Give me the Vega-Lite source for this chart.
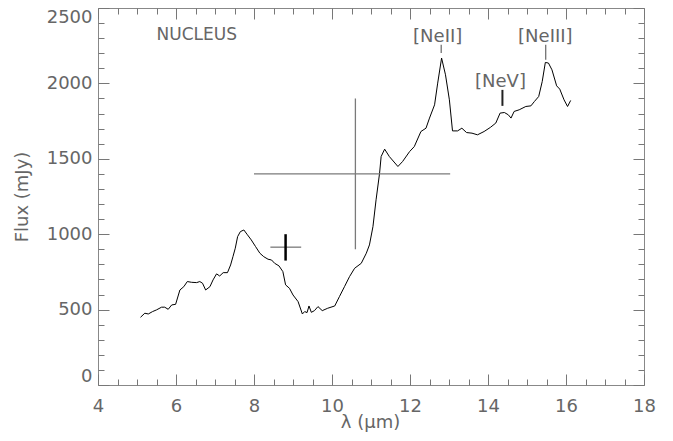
{
  "$schema": "https://vega.github.io/schema/vega-lite/v6.json",
  "width": 546,
  "height": 377,
  "autosize": {"type": "none"},
  "padding": {"left": 98, "top": 8, "right": 29, "bottom": 56},
  "background": "white",
  "config": {
    "view": {"stroke": "#888888", "strokeWidth": 1},
    "axis": {"domain": false, "grid": false, "tickColor": "#777777", "tickWidth": 1, "labelFont": "DejaVu Sans", "labelFontSize": 18, "labelColor": "#666666", "titleFont": "DejaVu Sans", "titleFontSize": 18, "titleColor": "#666666", "titleFontWeight": "normal", "format": "d"}
  },
  "datasets": {
    "spectrum": [
      {"wl": 5.09, "flux": 449}, {"wl": 5.20, "flux": 476}, {"wl": 5.29, "flux": 471}, {"wl": 5.40, "flux": 487},
      {"wl": 5.50, "flux": 498}, {"wl": 5.63, "flux": 516}, {"wl": 5.71, "flux": 516}, {"wl": 5.80, "flux": 502},
      {"wl": 5.89, "flux": 531}, {"wl": 5.99, "flux": 535}, {"wl": 6.10, "flux": 630}, {"wl": 6.20, "flux": 652},
      {"wl": 6.29, "flux": 686}, {"wl": 6.40, "flux": 681}, {"wl": 6.53, "flux": 679}, {"wl": 6.61, "flux": 686},
      {"wl": 6.68, "flux": 675}, {"wl": 6.76, "flux": 630}, {"wl": 6.87, "flux": 652}, {"wl": 6.95, "flux": 697},
      {"wl": 7.04, "flux": 737}, {"wl": 7.12, "flux": 723}, {"wl": 7.21, "flux": 745}, {"wl": 7.32, "flux": 745},
      {"wl": 7.40, "flux": 796}, {"wl": 7.46, "flux": 851}, {"wl": 7.52, "flux": 907}, {"wl": 7.58, "flux": 984},
      {"wl": 7.65, "flux": 1017}, {"wl": 7.74, "flux": 1028}, {"wl": 7.82, "flux": 1000}, {"wl": 7.93, "flux": 962},
      {"wl": 8.04, "flux": 918}, {"wl": 8.15, "flux": 874}, {"wl": 8.25, "flux": 851}, {"wl": 8.36, "flux": 834},
      {"wl": 8.45, "flux": 829}, {"wl": 8.53, "flux": 807}, {"wl": 8.64, "flux": 790}, {"wl": 8.74, "flux": 752},
      {"wl": 8.81, "flux": 664}, {"wl": 8.91, "flux": 641}, {"wl": 9.00, "flux": 597}, {"wl": 9.13, "flux": 553},
      {"wl": 9.24, "flux": 471}, {"wl": 9.30, "flux": 487}, {"wl": 9.36, "flux": 480}, {"wl": 9.41, "flux": 524},
      {"wl": 9.47, "flux": 482}, {"wl": 9.55, "flux": 493}, {"wl": 9.64, "flux": 520}, {"wl": 9.75, "flux": 493},
      {"wl": 9.89, "flux": 509}, {"wl": 10.07, "flux": 524}, {"wl": 10.19, "flux": 586}, {"wl": 10.32, "flux": 652},
      {"wl": 10.45, "flux": 719}, {"wl": 10.58, "flux": 774}, {"wl": 10.75, "flux": 807}, {"wl": 10.88, "flux": 874},
      {"wl": 10.96, "flux": 929}, {"wl": 11.05, "flux": 1050}, {"wl": 11.13, "flux": 1228}, {"wl": 11.22, "flux": 1405},
      {"wl": 11.26, "flux": 1515}, {"wl": 11.35, "flux": 1564}, {"wl": 11.47, "flux": 1515}, {"wl": 11.69, "flux": 1449},
      {"wl": 11.81, "flux": 1482}, {"wl": 11.99, "flux": 1548}, {"wl": 12.11, "flux": 1581}, {"wl": 12.28, "flux": 1681},
      {"wl": 12.41, "flux": 1703}, {"wl": 12.50, "flux": 1770}, {"wl": 12.63, "flux": 1858}, {"wl": 12.71, "flux": 2002},
      {"wl": 12.81, "flux": 2168}, {"wl": 12.91, "flux": 2057}, {"wl": 13.01, "flux": 1891}, {"wl": 13.09, "flux": 1685},
      {"wl": 13.22, "flux": 1685}, {"wl": 13.33, "flux": 1703}, {"wl": 13.45, "flux": 1674}, {"wl": 13.59, "flux": 1670},
      {"wl": 13.73, "flux": 1659}, {"wl": 13.90, "flux": 1681}, {"wl": 14.06, "flux": 1708}, {"wl": 14.20, "flux": 1737},
      {"wl": 14.31, "flux": 1803}, {"wl": 14.42, "flux": 1807}, {"wl": 14.52, "flux": 1792}, {"wl": 14.59, "flux": 1770},
      {"wl": 14.67, "flux": 1814}, {"wl": 14.80, "flux": 1825}, {"wl": 14.97, "flux": 1847}, {"wl": 15.10, "flux": 1851},
      {"wl": 15.19, "flux": 1880}, {"wl": 15.30, "flux": 1913}, {"wl": 15.39, "flux": 2012}, {"wl": 15.47, "flux": 2139},
      {"wl": 15.55, "flux": 2135}, {"wl": 15.64, "flux": 2090}, {"wl": 15.76, "flux": 1984}, {"wl": 15.84, "flux": 1962},
      {"wl": 15.95, "flux": 1891}, {"wl": 16.04, "flux": 1847}, {"wl": 16.12, "flux": 1887}
    ],
    "errh": [
      {"x": 8.0, "x2": 13.03, "y": 1400},
      {"x": 8.42, "x2": 9.21, "y": 914}
    ],
    "errvBig": [
      {"x": 10.6, "y": 900, "y2": 1900}
    ],
    "errvSmall": [
      {"x": 8.81, "y": 825, "y2": 1000}
    ],
    "lineTicksThin": [
      {"x": 12.8, "y": 2201, "y2": 2256},
      {"x": 15.48, "y": 2157, "y2": 2256}
    ],
    "lineTicksThick": [
      {"x": 14.37, "y": 1851, "y2": 1957}
    ],
    "lineLabels": [
      {"label": "[NeII]", "x": 12.71, "y": 2310},
      {"label": "[NeIII]", "x": 15.47, "y": 2310},
      {"label": "[NeV]", "x": 14.32, "y": 2010}
    ],
    "title": [
      {"label": "NUCLEUS", "x": 5.5, "y": 2322}
    ]
  },
  "layer": [
    {
      "data": {"name": "spectrum"},
      "mark": {"type": "line", "color": "black", "strokeWidth": 1, "interpolate": "linear"},
      "encoding": {
        "x": {"field": "wl", "type": "quantitative", "scale": {"domain": [4, 18], "nice": false, "zero": false},
          "axis": {"orient": "bottom", "values": [4, 6, 8, 10, 12, 14, 16, 18], "tickSize": -11, "labelPadding": 23, "labelFlush": false, "title": "λ (μm)", "titleX": 272, "titleY": 37, "titleBaseline": "middle", "titleAnchor": null}},
        "y": {"field": "flux", "type": "quantitative", "scale": {"domain": [0, 2500], "nice": false, "zero": false},
          "axis": {"orient": "left", "values": [0, 500, 1000, 1500, 2000, 2500], "tickSize": -11, "labelPadding": 17, "labelFlush": true, "title": "Flux (mJy)", "titleX": -76, "titleY": 188.5, "titleAngle": -90, "titleBaseline": "middle", "titleAlign": "center"}}
      }
    },
    {
      "data": {"name": "errh"},
      "mark": {"type": "rule", "color": "#7a7a7a", "strokeWidth": 1.3},
      "encoding": {
        "x": {"field": "x", "type": "quantitative", "scale": {"domain": [4, 18], "nice": false, "zero": false},
          "axis": {"orient": "bottom", "values": [4.5, 5, 5.5, 6.5, 7, 7.5, 8.5, 9, 9.5, 10.5, 11, 11.5, 12.5, 13, 13.5, 14.5, 15, 15.5, 16.5, 17, 17.5], "tickSize": -6, "labels": false, "title": null}},
        "x2": {"field": "x2"},
        "y": {"field": "y", "type": "quantitative", "scale": {"domain": [0, 2500], "nice": false, "zero": false},
          "axis": {"orient": "left", "values": [100, 200, 300, 400, 600, 700, 800, 900, 1100, 1200, 1300, 1400, 1600, 1700, 1800, 1900, 2100, 2200, 2300, 2400], "tickSize": -6, "labels": false, "title": null}}
      }
    },
    {
      "data": {"name": "errvBig"},
      "mark": {"type": "rule", "color": "#7a7a7a", "strokeWidth": 1.3},
      "encoding": {
        "x": {"field": "x", "type": "quantitative", "scale": {"domain": [4, 18], "nice": false, "zero": false},
          "axis": {"orient": "top", "values": [4, 6, 8, 10, 12, 14, 16, 18], "tickSize": -11, "labels": false, "title": null}},
        "y": {"field": "y", "type": "quantitative", "scale": {"domain": [0, 2500], "nice": false, "zero": false},
          "axis": {"orient": "right", "values": [0, 500, 1000, 1500, 2000, 2500], "tickSize": -11, "labels": false, "title": null}},
        "y2": {"field": "y2"}
      }
    },
    {
      "data": {"name": "errvSmall"},
      "mark": {"type": "rule", "color": "black", "strokeWidth": 2.5},
      "encoding": {
        "x": {"field": "x", "type": "quantitative", "scale": {"domain": [4, 18], "nice": false, "zero": false},
          "axis": {"orient": "top", "values": [4.5, 5, 5.5, 6.5, 7, 7.5, 8.5, 9, 9.5, 10.5, 11, 11.5, 12.5, 13, 13.5, 14.5, 15, 15.5, 16.5, 17, 17.5], "tickSize": -6, "labels": false, "title": null}},
        "y": {"field": "y", "type": "quantitative", "scale": {"domain": [0, 2500], "nice": false, "zero": false},
          "axis": {"orient": "right", "values": [100, 200, 300, 400, 600, 700, 800, 900, 1100, 1200, 1300, 1400, 1600, 1700, 1800, 1900, 2100, 2200, 2300, 2400], "tickSize": -6, "labels": false, "title": null}},
        "y2": {"field": "y2"}
      }
    },
    {
      "data": {"name": "lineTicksThin"},
      "mark": {"type": "rule", "color": "#666666", "strokeWidth": 1.2},
      "encoding": {
        "x": {"field": "x", "type": "quantitative", "axis": null},
        "y": {"field": "y", "type": "quantitative", "axis": null},
        "y2": {"field": "y2"}
      }
    },
    {
      "data": {"name": "lineTicksThick"},
      "mark": {"type": "rule", "color": "#222222", "strokeWidth": 2},
      "encoding": {
        "x": {"field": "x", "type": "quantitative", "axis": null},
        "y": {"field": "y", "type": "quantitative", "axis": null},
        "y2": {"field": "y2"}
      }
    },
    {
      "data": {"name": "lineLabels"},
      "mark": {"type": "text", "font": "DejaVu Sans", "fontSize": 18, "color": "#666666", "align": "center", "baseline": "middle"},
      "encoding": {
        "x": {"field": "x", "type": "quantitative", "axis": null},
        "y": {"field": "y", "type": "quantitative", "axis": null},
        "text": {"field": "label"}
      }
    },
    {
      "data": {"name": "title"},
      "mark": {"type": "text", "font": "DejaVu Sans", "fontSize": 17, "color": "#666666", "align": "left", "baseline": "middle"},
      "encoding": {
        "x": {"field": "x", "type": "quantitative", "axis": null},
        "y": {"field": "y", "type": "quantitative", "axis": null},
        "text": {"field": "label"}
      }
    }
  ],
  "resolve": {"axis": {"x": "independent", "y": "independent"}}
}
